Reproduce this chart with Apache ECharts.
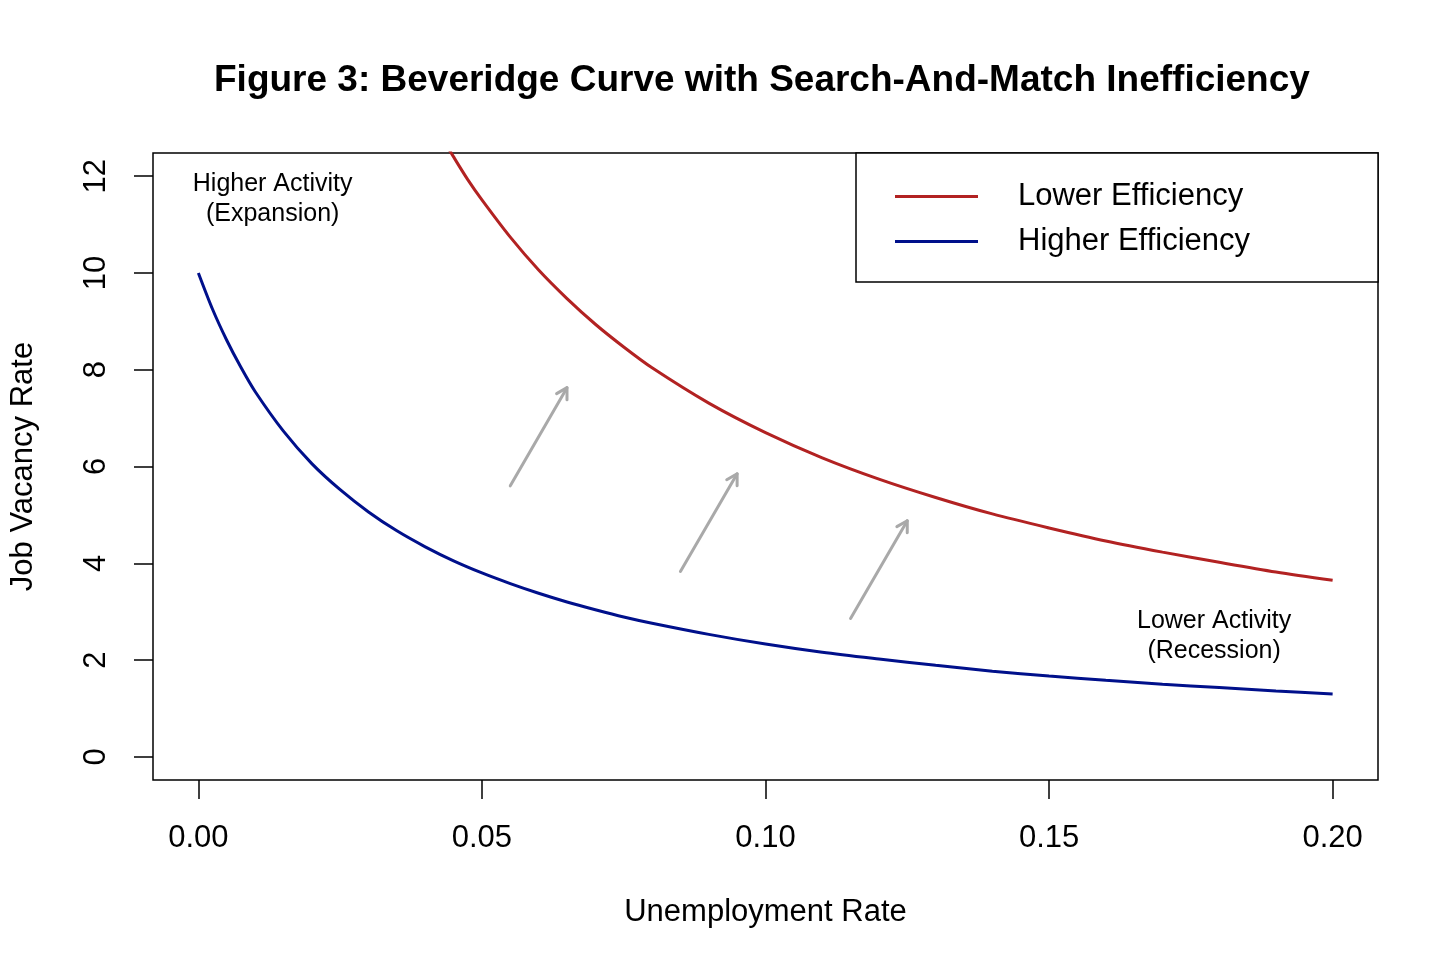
<!DOCTYPE html>
<html>
<head>
<meta charset="utf-8">
<title>Beveridge Curve</title>
<script src="https://cdn.jsdelivr.net/npm/echarts@6/dist/echarts.min.js"></script>
<style>
  html, body { margin: 0; padding: 0; background: #fff; }
  #chart { width: 1456px; height: 971px; }
</style>
</head>
<body>
<div id="chart"></div>
<script>
// values
const unemployment_blue = [0, 0.0025, 0.005, 0.0075, 0.01, 0.015, 0.02, 0.025, 0.03, 0.035, 0.04, 0.045, 0.05, 0.055, 0.06, 0.065, 0.07, 0.075, 0.08, 0.09, 0.10, 0.11, 0.12, 0.13, 0.14, 0.15, 0.16, 0.17, 0.18, 0.19, 0.20]
const vacancy_higher_eff = [10.0, 9.25, 8.61, 8.05, 7.55, 6.73, 6.06, 5.52, 5.06, 4.67, 4.34, 4.05, 3.80, 3.58, 3.38, 3.20, 3.04, 2.89, 2.76, 2.53, 2.33, 2.16, 2.02, 1.89, 1.77, 1.67, 1.58, 1.50, 1.43, 1.36, 1.30]

const unemployment_red = [0.04, 0.0425, 0.045, 0.0475, 0.05, 0.055, 0.06, 0.065, 0.07, 0.075, 0.08, 0.09, 0.10, 0.11, 0.12, 0.13, 0.14, 0.15, 0.16, 0.17, 0.18, 0.19, 0.20]
const vacancy_lower_eff = [13.43, 12.89, 12.40, 11.93, 11.51, 10.74, 10.06, 9.47, 8.94, 8.47, 8.04, 7.31, 6.70, 6.18, 5.74, 5.36, 5.02, 4.73, 4.46, 4.23, 4.02, 3.82, 3.65]

// shift arrows: start (u, v) -> end (u, v)
const arrow_u0 = [0.055, 0.085, 0.115]
const arrow_v0 = [5.60, 3.83, 2.86]
const arrow_u1 = [0.065, 0.095, 0.125]
const arrow_v1 = [7.63, 5.85, 4.88]

const x_ticks = [0, 0.05, 0.10, 0.15, 0.20]
const y_ticks = [0, 2, 4, 6, 8, 10, 12]

const notes = [
  { u: 0.0131, v: 11.53, text: 'Higher Activity\n(Expansion)' },
  { u: 0.1791, v: 2.50, text: 'Lower Activity\n(Recession)' }
]

const FONT = '"Liberation Sans", Arial, Helvetica, sans-serif'

const zip = (xs, ys) => xs.map((x, i) => [x, ys[i]])

const chart = echarts.init(document.getElementById('chart'), null, { renderer: 'canvas' })

/**
 * gray arrow with an open V head, like R's arrows()
 */
function renderArrow(params, api) {
  const p0 = api.coord([api.value(0), api.value(1)])
  const p1 = api.coord([api.value(2), api.value(3)])
  const ang = Math.atan2(p1[1] - p0[1], p1[0] - p0[0])
  const len = 12, spread = Math.PI / 6
  const h1 = [p1[0] - len * Math.cos(ang - spread), p1[1] - len * Math.sin(ang - spread)]
  const h2 = [p1[0] - len * Math.cos(ang + spread), p1[1] - len * Math.sin(ang + spread)]
  const style = { stroke: '#a9a9a9', lineWidth: 3, fill: null, lineCap: 'round', lineJoin: 'round' }
  return {
    type: 'group',
    children: [
      { type: 'line', shape: { x1: p0[0], y1: p0[1], x2: p1[0], y2: p1[1] }, style },
      { type: 'polyline', shape: { points: [h1, p1, h2] }, style }
    ]
  }
}

const option = {
  animation: false,
  backgroundColor: '#fff',
  title: {
    text: 'Figure 3: Beveridge Curve with Search-And-Match Inefficiency',
    left: 214,
    top: 62,
    padding: 0,
    textStyle: { fontFamily: FONT, fontSize: 37, fontWeight: 'bold', color: '#000' }
  },
  grid: {
    left: 152, top: 153, width: 1226, height: 627,
    show: true, borderColor: '#000', borderWidth: 1.5, backgroundColor: 'transparent'
  },
  legend: {
    data: ['Lower Efficiency', 'Higher Efficiency'],
    orient: 'vertical',
    left: 856, top: 153,
    padding: [28, 128, 25, 39],
    itemGap: 14,
    icon: 'rect',
    itemWidth: 83, itemHeight: 3,
    backgroundColor: '#fff',
    borderColor: '#000', borderWidth: 1.5, borderRadius: 0,
    selectedMode: false,
    textStyle: { fontFamily: FONT, fontSize: 31, color: '#000', padding: [0, 0, 0, 35] }
  },
  xAxis: {
    type: 'value',
    min: -0.008, max: 0.208,
    name: 'Unemployment Rate',
    nameLocation: 'middle',
    nameGap: 117,
    nameTextStyle: { fontFamily: FONT, fontSize: 31, color: '#000' },
    axisLine: { show: false, onZero: false },
    splitLine: { show: false },
    axisTick: { show: true, customValues: x_ticks, length: 19, lineStyle: { color: '#000', width: 1.5 } },
    axisLabel: {
      customValues: x_ticks, margin: 43,
      fontFamily: FONT, fontSize: 31, color: '#000',
      formatter: v => v.toFixed(2)
    }
  },
  yAxis: {
    type: 'value',
    min: -0.48, max: 12.48,
    name: 'Job Vacancy Rate',
    nameLocation: 'middle',
    nameGap: 114,
    nameTextStyle: { fontFamily: FONT, fontSize: 31, color: '#000' },
    axisLine: { show: false, onZero: false },
    splitLine: { show: false },
    axisTick: { show: true, customValues: y_ticks, length: 19, lineStyle: { color: '#000', width: 1.5 } },
    axisLabel: {
      customValues: y_ticks, margin: 41, rotate: 90,
      fontFamily: FONT, fontSize: 31, color: '#000',
      formatter: v => String(Math.round(v))
    }
  },
  series: [
    {
      name: 'Lower Efficiency',
      type: 'line',
      data: zip(unemployment_red, vacancy_lower_eff),
      showSymbol: false, symbol: 'none',
      smooth: 0.3, clip: true,
      color: '#b22222',
      lineStyle: { color: '#b22222', width: 3 }
    },
    {
      name: 'Higher Efficiency',
      type: 'line',
      data: zip(unemployment_blue, vacancy_higher_eff),
      showSymbol: false, symbol: 'none',
      smooth: 0.3, clip: true,
      color: '#00108b',
      lineStyle: { color: '#00108b', width: 3 }
    },
    {
      name: 'shift',
      type: 'custom',
      renderItem: renderArrow,
      data: arrow_u0.map((u, i) => [u, arrow_v0[i], arrow_u1[i], arrow_v1[i]]),
      encode: { x: [0, 2], y: [1, 3] },
      silent: true, z: 3
    },
    {
      name: 'notes',
      type: 'scatter',
      symbolSize: 0,
      silent: true,
      itemStyle: { opacity: 1 },
      data: notes.map(n => ({ value: [n.u, n.v], text: n.text })),
      label: {
        show: true, position: [0, 0],
        formatter: p => p.data.text,
        fontFamily: FONT, fontSize: 25, lineHeight: 30,
        color: '#000', textBorderWidth: 0,
        align: 'center', verticalAlign: 'middle'
      }
    }
  ]
}

chart.setOption(option)
</script>
</body>
</html>
